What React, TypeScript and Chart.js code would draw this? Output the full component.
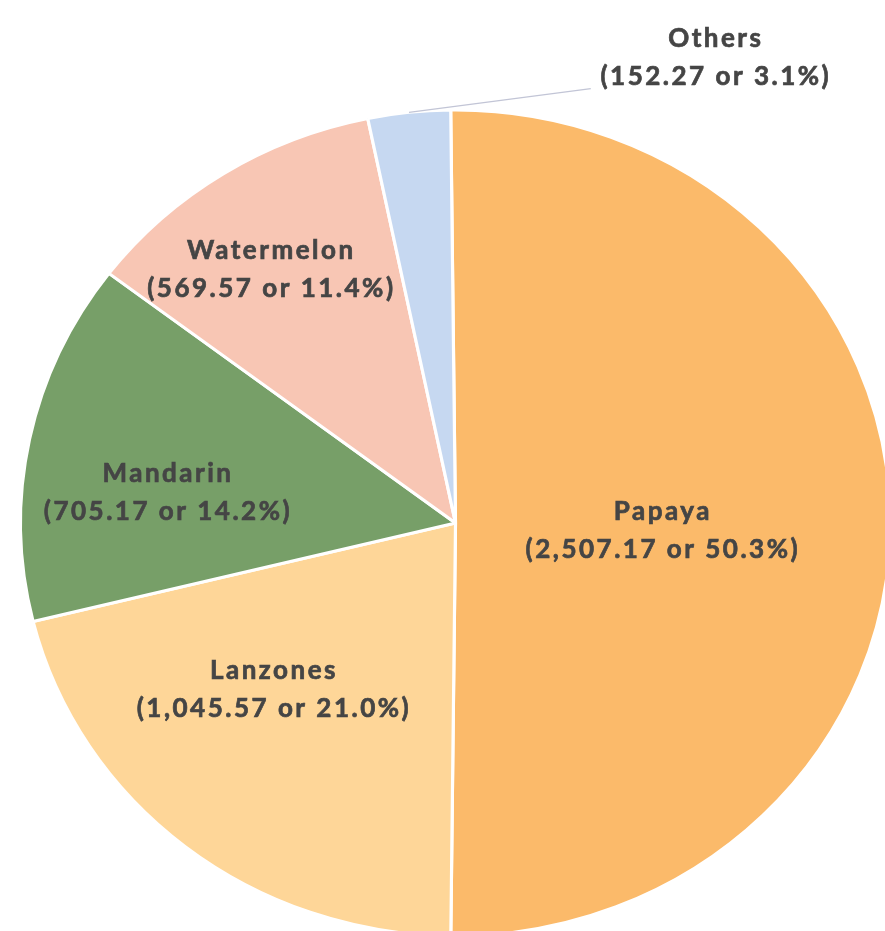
import React, { useEffect, useRef } from "react";
import { Chart, registerables } from "chart.js";

Chart.register(...registerables);

const categories = ["Papaya", "Lanzones", "Mandarin", "Watermelon", "Others"];
const values = [2507.17, 1045.57, 705.17, 569.57, 152.27];
const percentLabels = ["50.3%", "21.0%", "14.2%", "11.4%", "3.1%"];
const valueLabels = ["2,507.17", "1,045.57", "705.17", "569.57", "152.27"];
const colors = ["#FBBA6A", "#FED698", "#779F68", "#F8C6B4", "#C6D8F1"];

// label placement: fraction of radius and angular offset (degrees) from slice middle
const labelRadial = [0.477, 0.58, 0.665, 0.745, 1.276];
const labelAngleOffset = [2.2, 7.6, -5.4, -2.4, 34.1];

const W = 885;
const H = 931;
const SX = 435 / 413; // horizontal stretch of the pie

export default function App() {
  const ref = useRef<HTMLCanvasElement | null>(null);
  useEffect(() => {
    document.body.style.margin = "0";
    const canvas = ref.current!;
    const stretch = {
      id: "stretch",
      beforeDatasetsDraw(chart: any) {
        const arc = chart.getDatasetMeta(0).data[0];
        const ctx = chart.ctx;
        ctx.save();
        ctx.translate(arc.x, arc.y);
        ctx.scale(SX, 1);
        ctx.translate(-arc.x, -arc.y);
      },
      afterDatasetsDraw(chart: any) {
        chart.ctx.restore();
      },
    };
    const labelsPlugin = {
      id: "sliceLabels",
      afterDraw(chart: any) {
        const ctx = chart.ctx;
        const meta = chart.getDatasetMeta(0);
        ctx.save();
        ctx.font = "bold 26px Lato";
        ctx.fillStyle = "#454545";
        ctx.strokeStyle = "#454545";
        ctx.lineWidth = 0.7;
        ctx.textAlign = "center";
        ctx.textBaseline = "middle";
        try { (ctx as any).letterSpacing = "2.5px"; } catch (e) {}
        meta.data.forEach((arc: any, i: number) => {
          const mid = (arc.startAngle + arc.endAngle) / 2;
          const r = arc.outerRadius;
          const a = mid + (labelAngleOffset[i] * Math.PI) / 180;
          const lx = arc.x + Math.cos(a) * r * labelRadial[i] * SX;
          const ly = arc.y + Math.sin(a) * r * labelRadial[i];
          if (labelRadial[i] > 1) {
            const ex = arc.x + Math.cos(mid) * r * SX;
            const ey = arc.y + Math.sin(mid) * r;
            ctx.save();
            ctx.strokeStyle = "#C2C5D6";
            ctx.lineWidth = 1.2;
            ctx.beginPath();
            ctx.moveTo(ex, ey);
            ctx.lineTo(lx - 125, ly + 31);
            ctx.stroke();
            ctx.restore();
          }
          const l1 = categories[i];
          const l2 = "(" + valueLabels[i] + " or " + percentLabels[i] + ")";
          ctx.fillText(l1, lx, ly - 19);
          ctx.strokeText(l1, lx, ly - 19);
          ctx.fillText(l2, lx, ly + 19);
          ctx.strokeText(l2, lx, ly + 19);
        });
        ctx.restore();
      },
    };
    const chart = new Chart(canvas, {
      type: "pie",
      data: {
        labels: categories,
        datasets: [
          {
            data: values,
            backgroundColor: colors,
            borderColor: "#FFFFFF",
            borderWidth: 3,
            clip: false as any,
          },
        ],
      },
      options: {
        responsive: false,
        animation: false,
        radius: 413,
        rotation: -0.63,
        layout: { padding: { left: 26, top: 115, right: 0, bottom: 0 } },
        plugins: { legend: { display: false }, tooltip: { enabled: false } },
      } as any,
      plugins: [stretch, labelsPlugin],
    });
    return () => chart.destroy();
  }, []);
  return <canvas ref={ref} width={W} height={H} style={{ display: "block", width: W, height: H }} />;
}
